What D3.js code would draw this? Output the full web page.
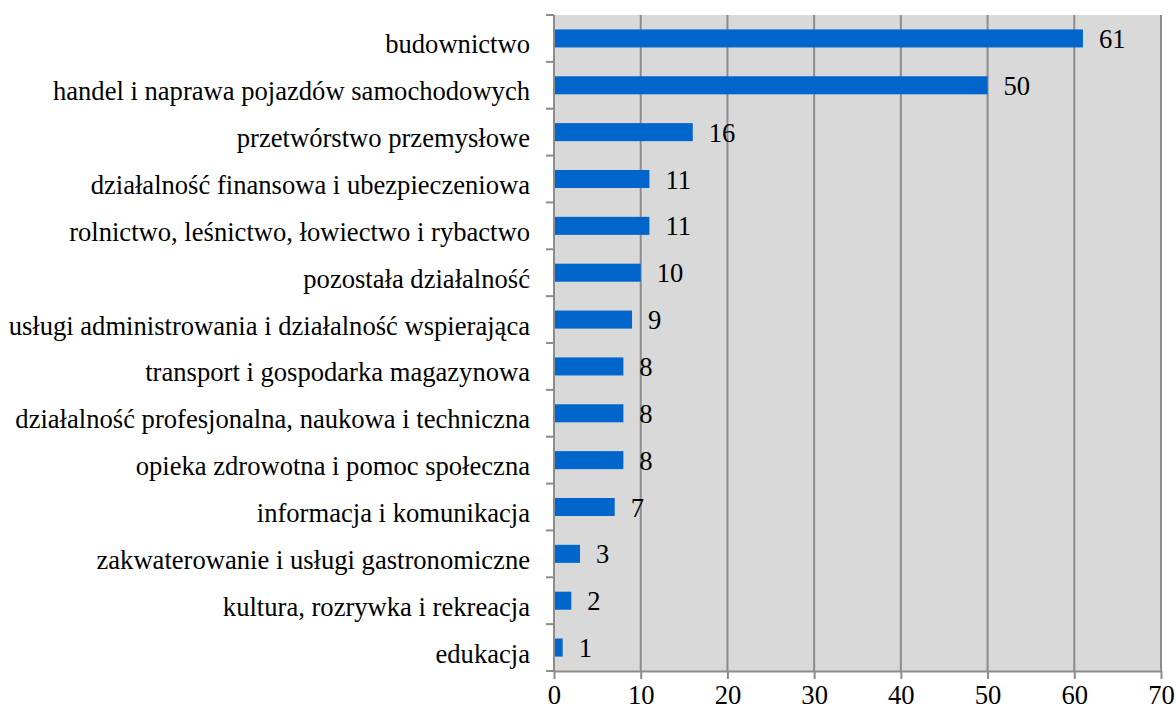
<!DOCTYPE html>
<html>
<head>
<meta charset="utf-8">
<script src="https://cdn.jsdelivr.net/npm/d3@7"></script>
<style>
  body { margin: 0; background: #fff; }
</style>
</head>
<body>
<div id="chart"></div>
<script>
// Categories (top to bottom) and values
const categories = [
    "budownictwo",
    "handel i naprawa pojazdów samochodowych",
    "przetwórstwo przemysłowe",
    "działalność finansowa i ubezpieczeniowa",
    "rolnictwo, leśnictwo, łowiectwo i rybactwo",
    "pozostała działalność",
    "usługi administrowania i działalność wspierająca",
    "transport i gospodarka magazynowa",
    "działalność profesjonalna, naukowa i techniczna",
    "opieka zdrowotna i pomoc społeczna",
    "informacja i komunikacja",
    "zakwaterowanie i usługi gastronomiczne",
    "kultura, rozrywka i rekreacja",
    "edukacja"
];
const values = [61, 50, 16, 11, 11, 10, 9, 8, 8, 8, 7, 3, 2, 1];
const xTicks = [0, 10, 20, 30, 40, 50, 60, 70];

const data = categories.map((c, i) => ({ name: c, value: values[i] }));

const margin = { top: 15, right: 15, bottom: 40, left: 554 };
const width = 1161 - margin.left;
const height = 671 - margin.top;
const fontSize = "26.6px";
const fontFam = "'Liberation Serif', 'Times New Roman', serif";

const svg = d3.select("#chart")
    .append("svg")
    .attr("width", 1176)
    .attr("height", 711)
    .attr("font-family", fontFam)
    .append("g")
    .attr("transform", "translate(" + margin.left + "," + margin.top + ")");

const x = d3.scaleLinear().domain([0, 70]).range([0, width]);
const y = d3.scaleBand().domain(categories).range([0, height]).paddingInner(0.615).paddingOuter(0.3075);

// plot background
svg.append("rect")
    .attr("width", width)
    .attr("height", height)
    .attr("fill", "#d9d9d9");

// vertical gridlines
svg.selectAll(".grid")
    .data(xTicks.slice(1))
    .enter()
    .append("line")
    .attr("x1", d => x(d))
    .attr("x2", d => x(d))
    .attr("y1", 0)
    .attr("y2", height)
    .attr("stroke", "#8c8c8c")
    .attr("stroke-width", 2);

// bars
svg.selectAll(".bar")
    .data(data)
    .enter()
    .append("rect")
    .attr("class", "bar")
    .attr("x", 0)
    .attr("y", d => y(d.name))
    .attr("width", d => x(d.value))
    .attr("height", y.bandwidth())
    .attr("fill", "#0066cc");

// value labels
svg.selectAll(".label")
    .data(data)
    .enter()
    .append("text")
    .attr("x", d => x(d.value) + 16)
    .attr("y", d => y(d.name) + y.bandwidth() / 2 + 9.5)
    .attr("font-family", fontFam)
    .style("font-size", fontSize)
    .style("fill", "#000")
    .text(d => d.value);

// x axis
const xAxis = svg.append("g")
    .attr("transform", "translate(0," + height + ")")
    .call(d3.axisBottom(x).tickValues(xTicks).tickSize(8).tickSizeOuter(0));
xAxis.attr("font-family", fontFam);
xAxis.select(".domain").attr("stroke", "#8c8c8c").attr("stroke-width", 2);
xAxis.selectAll(".tick line").attr("stroke", "#8c8c8c").attr("stroke-width", 2);
xAxis.selectAll(".tick text")
    .attr("y", 33)
    .attr("dy", 0)
    .style("font-size", fontSize)
    .attr("fill", "#000");

// y axis: ticks at band boundaries
const step = height / categories.length;
const yAxisG = svg.append("g");
yAxisG.append("line")
    .attr("x1", 0).attr("x2", 0)
    .attr("y1", 0).attr("y2", height)
    .attr("stroke", "#8c8c8c").attr("stroke-width", 2);
yAxisG.selectAll(".ytick")
    .data(d3.range(categories.length + 1))
    .enter()
    .append("line")
    .attr("x1", -8).attr("x2", 0)
    .attr("y1", i => i * step).attr("y2", i => i * step)
    .attr("stroke", "#8c8c8c").attr("stroke-width", 2);
yAxisG.selectAll(".ylab")
    .data(categories)
    .enter()
    .append("text")
    .attr("x", -24)
    .attr("y", d => y(d) + y.bandwidth() / 2 + 15)
    .attr("text-anchor", "end")
    .attr("font-family", fontFam)
    .style("font-size", fontSize)
    .text(d => d);
</script>
</body>
</html>
